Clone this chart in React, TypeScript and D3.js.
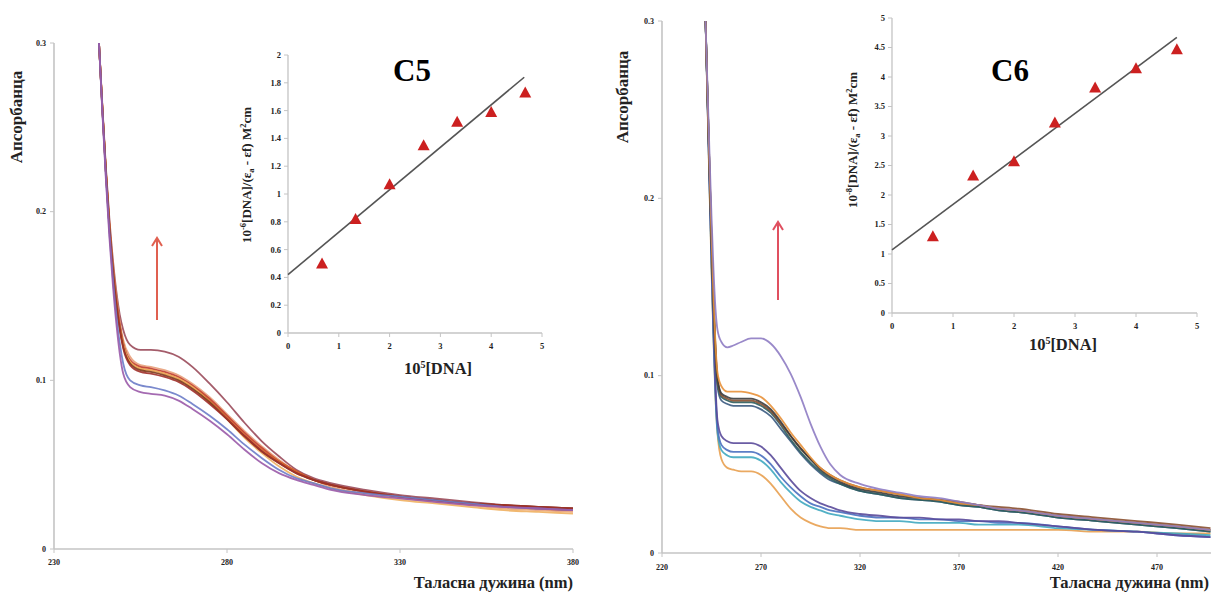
import React from "react";
import * as d3 from "d3";

// ---------- Left panel (C5) ----------
const leftWavelengths = [243,244,245,246,247,248,249,250,252,255,258,262,266,270,275,280,285,290,295,300,305,310,320,330,340,350,360,370,380];
const leftSeries = [
  { color: "#9a4a5a", values: [0.300,0.262,0.226,0.196,0.172,0.153,0.139,0.130,0.121,0.118,0.118,0.117,0.114,0.108,0.098,0.087,0.075,0.064,0.055,0.047,0.042,0.039,0.035,0.032,0.030,0.028,0.026,0.025,0.024] },
  { color: "#e8a07a", values: [0.300,0.261,0.225,0.194,0.169,0.150,0.135,0.124,0.114,0.109,0.108,0.106,0.103,0.098,0.090,0.080,0.070,0.061,0.053,0.046,0.041,0.037,0.033,0.030,0.028,0.026,0.024,0.023,0.022] },
  { color: "#c0392b", values: [0.300,0.261,0.224,0.193,0.168,0.148,0.133,0.122,0.112,0.108,0.107,0.105,0.102,0.097,0.089,0.079,0.069,0.060,0.052,0.046,0.041,0.038,0.034,0.031,0.029,0.027,0.026,0.024,0.023] },
  { color: "#d4622a", values: [0.300,0.261,0.224,0.192,0.167,0.147,0.132,0.121,0.111,0.107,0.106,0.104,0.101,0.096,0.088,0.078,0.068,0.059,0.052,0.046,0.041,0.038,0.034,0.031,0.029,0.027,0.025,0.024,0.023] },
  { color: "#f0b060", values: [0.300,0.260,0.223,0.191,0.166,0.146,0.131,0.121,0.111,0.107,0.106,0.104,0.101,0.096,0.087,0.077,0.066,0.057,0.049,0.043,0.039,0.036,0.032,0.029,0.027,0.025,0.023,0.022,0.021] },
  { color: "#7a3a1a", values: [0.300,0.260,0.223,0.191,0.166,0.146,0.131,0.120,0.110,0.106,0.105,0.103,0.100,0.095,0.087,0.077,0.067,0.058,0.051,0.045,0.041,0.038,0.034,0.031,0.029,0.027,0.026,0.025,0.024] },
  { color: "#a0302a", values: [0.300,0.260,0.223,0.191,0.165,0.145,0.130,0.119,0.109,0.105,0.104,0.102,0.099,0.094,0.086,0.077,0.067,0.058,0.051,0.045,0.041,0.038,0.034,0.031,0.029,0.027,0.026,0.025,0.024] },
  { color: "#6c7cc8", values: [0.300,0.259,0.221,0.188,0.161,0.139,0.122,0.110,0.100,0.097,0.096,0.094,0.091,0.086,0.079,0.071,0.062,0.054,0.047,0.042,0.039,0.036,0.033,0.031,0.029,0.027,0.025,0.024,0.023] },
  { color: "#9a5aa8", values: [0.300,0.258,0.219,0.185,0.157,0.134,0.116,0.104,0.096,0.093,0.092,0.091,0.088,0.083,0.076,0.068,0.059,0.051,0.045,0.041,0.038,0.035,0.032,0.030,0.028,0.026,0.025,0.024,0.023] },
];
const leftXTicks = [230, 280, 330, 380];
const leftYTicks = [0, 0.1, 0.2, 0.3];

// Left inset
const insetLeftX = [0.67, 1.33, 2.0, 2.67, 3.33, 4.0, 4.67];
const insetLeftY = [0.50, 0.82, 1.07, 1.35, 1.52, 1.59, 1.73];
const insetLeftFit = [[0, 0.42], [4.65, 1.84]];
const insetLeftXTicks = [0, 1, 2, 3, 4, 5];
const insetLeftYTicks = [0, 0.2, 0.4, 0.6, 0.8, 1, 1.2, 1.4, 1.6, 1.8, 2];

// ---------- Right panel (C6) ----------
const rightWavelengths = [242,243,244,245,246,247,248,250,253,256,260,265,270,275,280,285,290,295,300,305,310,320,330,340,350,360,370,380,390,400,420,440,460,480,497];
const rightSeries = [
  { color: "#e8a050", values: [0.300,0.252,0.205,0.160,0.120,0.088,0.068,0.053,0.048,0.047,0.046,0.046,0.044,0.039,0.032,0.025,0.020,0.017,0.015,0.014,0.014,0.013,0.013,0.013,0.013,0.013,0.013,0.013,0.013,0.013,0.013,0.012,0.012,0.011,0.011] },
  { color: "#40a8c0", values: [0.300,0.254,0.207,0.163,0.122,0.089,0.068,0.058,0.055,0.054,0.054,0.054,0.052,0.047,0.040,0.034,0.029,0.026,0.024,0.022,0.021,0.019,0.018,0.018,0.017,0.017,0.017,0.016,0.016,0.016,0.014,0.013,0.012,0.011,0.010] },
  { color: "#4a70c0", values: [0.300,0.254,0.208,0.165,0.124,0.091,0.071,0.061,0.058,0.057,0.057,0.057,0.055,0.050,0.043,0.037,0.032,0.028,0.026,0.024,0.023,0.021,0.020,0.020,0.019,0.019,0.018,0.018,0.017,0.017,0.015,0.013,0.012,0.010,0.009] },
  { color: "#5a4a9a", values: [0.300,0.255,0.210,0.168,0.128,0.095,0.075,0.066,0.063,0.062,0.062,0.062,0.060,0.055,0.048,0.041,0.035,0.031,0.028,0.026,0.024,0.022,0.021,0.020,0.020,0.019,0.019,0.018,0.018,0.017,0.015,0.013,0.012,0.010,0.009] },
  { color: "#3a5a80", values: [0.300,0.257,0.215,0.175,0.139,0.111,0.094,0.086,0.084,0.083,0.083,0.083,0.081,0.077,0.070,0.063,0.056,0.050,0.045,0.041,0.039,0.035,0.033,0.031,0.030,0.029,0.027,0.026,0.024,0.023,0.020,0.018,0.016,0.014,0.012] },
  { color: "#2e5e5e", values: [0.300,0.257,0.216,0.176,0.141,0.113,0.096,0.088,0.086,0.085,0.085,0.085,0.083,0.079,0.072,0.064,0.057,0.051,0.046,0.042,0.039,0.035,0.033,0.031,0.030,0.029,0.027,0.026,0.024,0.023,0.020,0.018,0.016,0.014,0.012] },
  { color: "#8a5030", values: [0.300,0.257,0.216,0.177,0.142,0.115,0.098,0.089,0.087,0.086,0.086,0.086,0.084,0.080,0.073,0.066,0.059,0.053,0.048,0.044,0.041,0.037,0.035,0.033,0.031,0.030,0.029,0.027,0.026,0.025,0.022,0.020,0.018,0.016,0.014] },
  { color: "#3c3c3c", values: [0.300,0.258,0.217,0.178,0.143,0.116,0.099,0.090,0.088,0.087,0.087,0.087,0.085,0.081,0.074,0.066,0.059,0.053,0.047,0.043,0.040,0.036,0.034,0.032,0.031,0.030,0.028,0.027,0.025,0.024,0.021,0.019,0.017,0.015,0.013] },
  { color: "#e8913a", values: [0.300,0.258,0.218,0.180,0.145,0.118,0.102,0.094,0.091,0.091,0.091,0.090,0.088,0.083,0.076,0.068,0.061,0.054,0.048,0.044,0.041,0.037,0.035,0.033,0.031,0.030,0.028,0.027,0.025,0.024,0.021,0.019,0.017,0.015,0.013] },
  { color: "#8e7cc3", values: [0.300,0.262,0.225,0.190,0.160,0.138,0.126,0.119,0.116,0.117,0.119,0.121,0.121,0.118,0.111,0.101,0.088,0.073,0.060,0.050,0.044,0.039,0.036,0.034,0.032,0.031,0.029,0.027,0.025,0.024,0.021,0.019,0.017,0.015,0.013] },
];
const rightXTicks = [220, 270, 320, 370, 420, 470];
const rightYTicks = [0, 0.1, 0.2, 0.3];

// Right inset
const insetRightX = [0.67, 1.33, 2.0, 2.67, 3.33, 4.0, 4.67];
const insetRightY = [1.30, 2.33, 2.57, 3.23, 3.82, 4.15, 4.47];
const insetRightFit = [[0, 1.07], [4.67, 4.67]];
const insetRightXTicks = [0, 1, 2, 3, 4, 5];
const insetRightYTicks = [0, 0.5, 1, 1.5, 2, 2.5, 3, 3.5, 4, 4.5, 5];

const SERIF = "Liberation Serif, DejaVu Serif, serif";
const AXIS = "#c4c4c4";
const TICKTXT = "#222";

function fmt(v: number) {
  return String(v);
}

function Axes({ x, y, xTicks, yTicks, xEnd, tickFont, yLabelGap, xLabelGap, axisW }: any) {
  const [x0] = x.range();
  const y0 = y(0);
  const yTop = y(yTicks[yTicks.length - 1]);
  return (
    <g>
      <line x1={x0} x2={xEnd} y1={y0} y2={y0} stroke={AXIS} strokeWidth={axisW} />
      <line x1={x0} x2={x0} y1={y0} y2={yTop} stroke={AXIS} strokeWidth={axisW} />
      {xTicks.map((t: number) => (
        <g key={"x" + t}>
          <line x1={x(t)} x2={x(t)} y1={y0} y2={y0 + 4} stroke={AXIS} strokeWidth={1} />
          <text x={x(t)} y={y0 + xLabelGap} textAnchor="middle" fontFamily={SERIF} fontWeight="bold" fontSize={tickFont} fill={TICKTXT}>{fmt(t)}</text>
        </g>
      ))}
      {yTicks.map((t: number) => (
        <g key={"y" + t}>
          <line x1={x0 - 4} x2={x0} y1={y(t)} y2={y(t)} stroke={AXIS} strokeWidth={1} />
          <text x={x0 - yLabelGap} y={y(t)} dy="0.35em" textAnchor="end" fontFamily={SERIF} fontWeight="bold" fontSize={tickFont} fill={TICKTXT}>{fmt(t)}</text>
        </g>
      ))}
    </g>
  );
}

function Triangle({ cx, cy }: { cx: number; cy: number }) {
  const w = 6, h = 10;
  return <path d={`M${cx},${cy - h / 2 - 1}L${cx + w},${cy + h / 2}L${cx - w},${cy + h / 2}Z`} fill="#cc2020" />;
}

function Inset({ x, y, xs, ys, fit, xTicks, yTicks, yTitle, xTitle, xTitleY, xTitleX, yTitleX, yTitleY }: any) {
  const fitLine = d3.line<number[]>().x((d) => x(d[0])).y((d) => y(d[1]));
  return (
    <g>
      <Axes x={x} y={y} xTicks={xTicks} yTicks={yTicks} xEnd={x(5)} tickFont={8.5} yLabelGap={7} xLabelGap={16} axisW={1.3} />
      <path d={fitLine(fit) || ""} stroke="#555" strokeWidth={1.6} fill="none" />
      {xs.map((v: number, i: number) => (
        <Triangle key={i} cx={x(v)} cy={y(ys[i])} />
      ))}
      <text transform={`translate(${yTitleX},${yTitleY}) rotate(-90)`} textAnchor="middle" fontFamily={SERIF} fontWeight="bold" fontSize={13} fill="#222">
        {yTitle}
      </text>
      <text x={xTitleX} y={xTitleY} textAnchor="middle" fontFamily={SERIF} fontWeight="bold" fontSize={16.5} fill="#222">
        {xTitle}
      </text>
    </g>
  );
}

function Arrow({ x, y1, y2, color }: any) {
  return (
    <g stroke={color} strokeWidth={2} fill="none">
      <line x1={x} x2={x} y1={y1} y2={y2} />
      <polyline points={`${x - 5},${y2 + 8} ${x},${y2} ${x + 5},${y2 + 8}`} />
    </g>
  );
}

export default function App() {
  // Left main scales
  const xL = d3.scaleLinear().domain([230, 380]).range([54, 573]);
  const yL = d3.scaleLinear().domain([0, 0.3]).range([549, 43]);
  // Right main scales
  const xR = d3.scaleLinear().domain([220, 470]).range([662, 1157]);
  const yR = d3.scaleLinear().domain([0, 0.3]).range([553, 21]);
  // Insets
  const xLi = d3.scaleLinear().domain([0, 5]).range([288, 542]);
  const yLi = d3.scaleLinear().domain([0, 2]).range([333, 55]);
  const xRi = d3.scaleLinear().domain([0, 5]).range([892, 1197]);
  const yRi = d3.scaleLinear().domain([0, 5]).range([313, 18]);

  const lineL = d3.line<number>().x((_, i) => xL(leftWavelengths[i])).y((d) => yL(d)).curve(d3.curveMonotoneX);
  const lineR = d3.line<number>().x((_, i) => xR(rightWavelengths[i])).y((d) => yR(d)).curve(d3.curveMonotoneX);

  const yTitle = (exp: string) => (
    <>
      10<tspan dy="-5" fontSize={8.5}>{exp}</tspan>
      <tspan dy="5">[DNA]/(ε</tspan>
      <tspan dy="3" fontSize={8.5}>a</tspan>
      <tspan dy="-3"> - εf) M</tspan>
      <tspan dy="-5" fontSize={8.5}>2</tspan>
      <tspan dy="5">cm</tspan>
    </>
  );
  const xTitle = (
    <>
      10<tspan dy="-6" fontSize={10}>5</tspan>
      <tspan dy="6">[DNA]</tspan>
    </>
  );

  return (
    <svg width={1211} height={596} style={{ position: "absolute", left: 0, top: 0, background: "#fff" }} fontFamily={SERIF}>
      <rect x={0} y={0} width={1211} height={596} fill="#fff" />

      {/* Left main */}
      <Axes x={xL} y={yL} xTicks={leftXTicks} yTicks={leftYTicks} xEnd={xL(380)} tickFont={8} yLabelGap={8} xLabelGap={16} axisW={1.6} />
      {leftSeries.map((s, i) => (
        <path key={i} d={lineL(s.values) || ""} stroke={s.color} strokeWidth={1.8} fill="none" opacity={0.9} />
      ))}
      <text transform={`translate(22,117) rotate(-90)`} textAnchor="middle" fontFamily={SERIF} fontWeight="bold" fontSize={17} fill="#222">Апсорбанца</text>
      <text x={573} y={588} textAnchor="end" fontFamily={SERIF} fontWeight="bold" fontSize={16.5} fill="#222">Таласна дужина (nm)</text>
      <Arrow x={157} y1={320} y2={238} color="#e06050" />

      <Inset x={xLi} y={yLi} xs={insetLeftX} ys={insetLeftY} fit={insetLeftFit} xTicks={insetLeftXTicks} yTicks={insetLeftYTicks}
        yTitle={yTitle("-6")} xTitle={xTitle} xTitleX={438} xTitleY={374} yTitleX={251} yTitleY={175} />
      <text x={412} y={81} textAnchor="middle" fontFamily={SERIF} fontWeight="bold" fontSize={31} fill="#000">C5</text>

      {/* Right main */}
      <Axes x={xR} y={yR} xTicks={rightXTicks} yTicks={rightYTicks} xEnd={1211} tickFont={8} yLabelGap={8} xLabelGap={17} axisW={1.6} />
      {rightSeries.map((s, i) => (
        <path key={i} d={lineR(s.values) || ""} stroke={s.color} strokeWidth={1.8} fill="none" opacity={0.9} />
      ))}
      <text transform={`translate(628,97) rotate(-90)`} textAnchor="middle" fontFamily={SERIF} fontWeight="bold" fontSize={17} fill="#222">Апсорбанца</text>
      <text x={1209} y={588} textAnchor="end" fontFamily={SERIF} fontWeight="bold" fontSize={16.5} fill="#222">Таласна дужина (nm)</text>
      <Arrow x={778} y1={300} y2={222} color="#e05060" />

      <Inset x={xRi} y={yRi} xs={insetRightX} ys={insetRightY} fit={insetRightFit} xTicks={insetRightXTicks} yTicks={insetRightYTicks}
        yTitle={yTitle("-8")} xTitle={xTitle} xTitleX={1063} xTitleY={350} yTitleX={857} yTitleY={140} />
      <text x={1010} y={81} textAnchor="middle" fontFamily={SERIF} fontWeight="bold" fontSize={31} fill="#000">C6</text>
    </svg>
  );
}
